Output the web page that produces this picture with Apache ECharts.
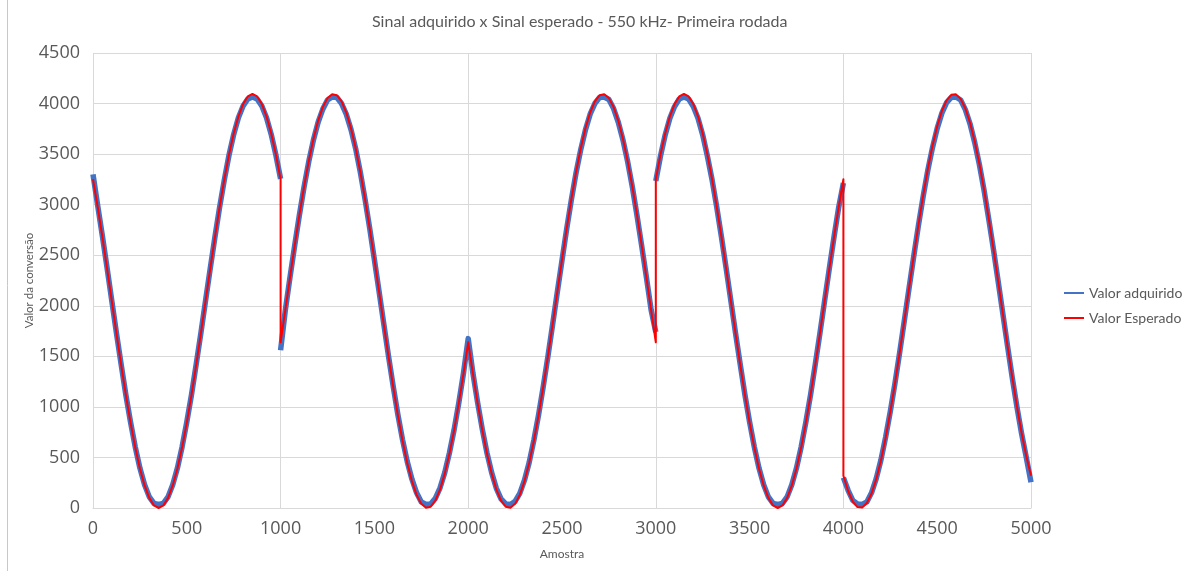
<!DOCTYPE html>
<html>
<head>
<meta charset="utf-8">
<script src="https://cdn.jsdelivr.net/npm/echarts@6/dist/echarts.min.js"></script>
<style>
  html, body { margin: 0; padding: 0; background: #ffffff; }
  #chart { width: 1184px; height: 571px; }
</style>
</head>
<body>
<div id="chart"></div>
<script>
// Each run block holds 1000 samples; values are listed every 25 samples (41 per block).
const sampleStep = 25;
const segmentStarts = [0, 1000, 2000, 3000, 4000];

const xTicks = [0, 500, 1000, 1500, 2000, 2500, 3000, 3500, 4000, 4500, 5000];
const yTicks = [0, 500, 1000, 1500, 2000, 2500, 3000, 3500, 4000, 4500];

// Valor Esperado (expected conversion value)
const expectedSeg1 = [3251,2977,2680,2368,2048,1727,1415,1118,844,600,391,223,100,25,0,25,100,223,391,600,844,1118,1415,1727,2048,2368,2680,2977,3251,3495,3704,3872,3995,4070,4095,4070,3995,3872,3704,3495,3251];
const expectedSeg2 = [1639,1958,2279,2594,2896,3177,3430,3649,3829,3965,4054,4093,4082,4021,3911,3755,3558,3323,3056,2765,2456,2138,1816,1501,1199,918,665,446,266,130,41,2,13,74,184,340,538,772,1039,1330,1639];
const expectedSeg3 = [1639,1330,1039,772,538,340,184,74,13,2,41,130,266,446,665,918,1199,1501,1816,2138,2456,2765,3056,3323,3558,3755,3911,4021,4082,4093,4054,3965,3829,3649,3430,3177,2896,2594,2279,1958,1639];
const expectedSeg4 = [3251,3495,3704,3872,3995,4070,4095,4070,3995,3872,3704,3495,3251,2977,2680,2368,2048,1727,1415,1118,844,600,391,223,100,25,0,25,100,223,391,600,844,1118,1415,1727,2048,2368,2680,2977,3251];
const expectedSeg5 = [319,168,64,9,4,49,144,285,470,694,950,1234,1538,1855,2176,2494,2801,3090,3353,3583,3776,3927,4031,4086,4091,4046,3951,3810,3625,3402,3145,2861,2557,2240,1919,1601,1294,1005,742,512,319];

// Valor adquirido (acquired conversion value, centre of the noisy trace)
const acquiredSeg1 = [3300,2990,2690,2375,2050,1730,1420,1120,850,605,395,230,110,45,35,45,110,230,395,605,850,1120,1420,1730,2050,2370,2680,2975,3245,3490,3695,3860,3975,4045,4065,4045,3975,3860,3695,3490,3255];
const acquiredSeg2 = [1560,1955,2280,2595,2895,3175,3425,3640,3815,3945,4035,4065,4060,4000,3895,3745,3555,3320,3055,2765,2455,2140,1820,1505,1205,925,675,460,285,150,60,35,40,95,200,350,545,775,1040,1335,1675];
const acquiredSeg3 = [1675,1335,1045,780,545,350,195,90,40,35,65,145,275,450,670,920,1200,1500,1815,2135,2450,2760,3050,3315,3545,3740,3895,4000,4060,4065,4040,3950,3815,3640,3425,3175,2890,2590,2280,1960,1740];
const acquiredSeg4 = [3235,3480,3690,3855,3970,4045,4065,4045,3970,3855,3690,3480,3245,2975,2680,2370,2050,1730,1420,1120,850,605,395,230,110,45,35,45,110,230,395,605,850,1120,1420,1730,2050,2370,2680,2975,3215];
const acquiredSeg5 = [300,175,75,40,35,60,150,290,475,700,955,1235,1540,1855,2175,2490,2795,3080,3340,3565,3755,3905,4010,4060,4065,4035,3940,3800,3615,3395,3140,2855,2555,2240,1920,1600,1290,1000,735,500,255];

const expectedSegments = [expectedSeg1, expectedSeg2, expectedSeg3, expectedSeg4, expectedSeg5];
const acquiredSegments = [acquiredSeg1, acquiredSeg2, acquiredSeg3, acquiredSeg4, acquiredSeg5];

// Turn the block arrays into [sample, value] pairs; optionally leave a gap where a block jumps.
function toPoints(segments, gapOnJump) {
  const pts = [];
  segments.forEach(function (vals, s) {
    if (s > 0 && gapOnJump) {
      const prev = segments[s - 1][segments[s - 1].length - 1];
      if (Math.abs(prev - vals[0]) > 500) pts.push([segmentStarts[s], '-']);
    }
    vals.forEach(function (v, i) {
      pts.push([segmentStarts[s] + i * sampleStep, v]);
    });
  });
  return pts;
}

const textColor = '#595959';
const gridColor = '#d9d9d9';
const plainNumber = function (v) { return String(v); };

const chart = echarts.init(document.getElementById('chart'), null, { renderer: 'canvas' });
chart.setOption({
  animation: false,
  backgroundColor: '#ffffff',
  title: {
    text: 'Sinal adquirido x Sinal esperado - 550 kHz- Primeira rodada',
    left: 372,
    top: 14,
    padding: 0,
    textStyle: { fontFamily: 'Lato', fontSize: 16, fontWeight: 'normal', color: textColor }
  },
  legend: {
    orient: 'vertical',
    left: 1064,
    top: 285,
    padding: 0,
    icon: 'rect',
    itemWidth: 20,
    itemHeight: 2,
    itemGap: 9,
    textStyle: { fontFamily: 'Lato', fontSize: 14, color: textColor, lineHeight: 16 },
    data: ['Valor adquirido', 'Valor Esperado']
  },
  grid: { left: 93, right: 153, top: 53, bottom: 63, containLabel: false },
  xAxis: [
    {
      type: 'value',
      min: xTicks[0],
      max: xTicks[xTicks.length - 1],
      interval: xTicks[1] - xTicks[0],
      name: 'Amostra',
      nameLocation: 'middle',
      nameGap: 40,
      nameMoveOverlap: false,
      nameTextStyle: { fontFamily: 'Lato', fontSize: 12, color: textColor },
      axisLine: { show: true, lineStyle: { color: gridColor } },
      axisTick: { show: false },
      axisLabel: { fontFamily: 'Open Sans', fontSize: 18, color: textColor, margin: 12, formatter: plainNumber },
      splitLine: { show: false }
    },
    {
      // vertical gridlines every 1000 samples
      type: 'value',
      position: 'bottom',
      min: xTicks[0],
      max: xTicks[xTicks.length - 1],
      interval: 1000,
      axisLine: { show: false },
      axisTick: { show: false },
      axisLabel: { show: false },
      splitLine: { show: true, lineStyle: { color: gridColor, width: 1 } }
    }
  ],
  yAxis: {
    type: 'value',
    min: yTicks[0],
    max: yTicks[yTicks.length - 1],
    interval: yTicks[1] - yTicks[0],
    name: 'Valor da conversão',
    nameLocation: 'middle',
    nameRotate: 90,
    nameGap: 58,
    nameMoveOverlap: false,
    nameTextStyle: { fontFamily: 'Lato', fontSize: 11.5, color: textColor },
    axisLine: { show: false },
    axisTick: { show: false },
    axisLabel: { fontFamily: 'Open Sans', fontSize: 18, color: textColor, margin: 13, formatter: plainNumber },
    splitLine: { show: true, lineStyle: { color: gridColor, width: 1 } }
  },
  series: [
    {
      name: 'Valor adquirido',
      type: 'line',
      xAxisIndex: 0,
      data: toPoints(acquiredSegments, true),
      symbol: 'none',
      connectNulls: false,
      color: '#4472c4',
      lineStyle: { color: '#4472c4', width: 5.5, join: 'round' },
      z: 2
    },
    {
      name: 'Valor Esperado',
      type: 'line',
      xAxisIndex: 0,
      data: toPoints(expectedSegments, false),
      symbol: 'none',
      color: '#ff0000',
      lineStyle: { color: '#ff0000', width: 2, join: 'round' },
      z: 3
    }
  ],
  graphic: [
    {
      type: 'line',
      shape: { x1: 7.5, y1: 0, x2: 7.5, y2: 571 },
      style: { stroke: '#c8c8c8', lineWidth: 1 },
      silent: true
    }
  ]
});
</script>
</body>
</html>
